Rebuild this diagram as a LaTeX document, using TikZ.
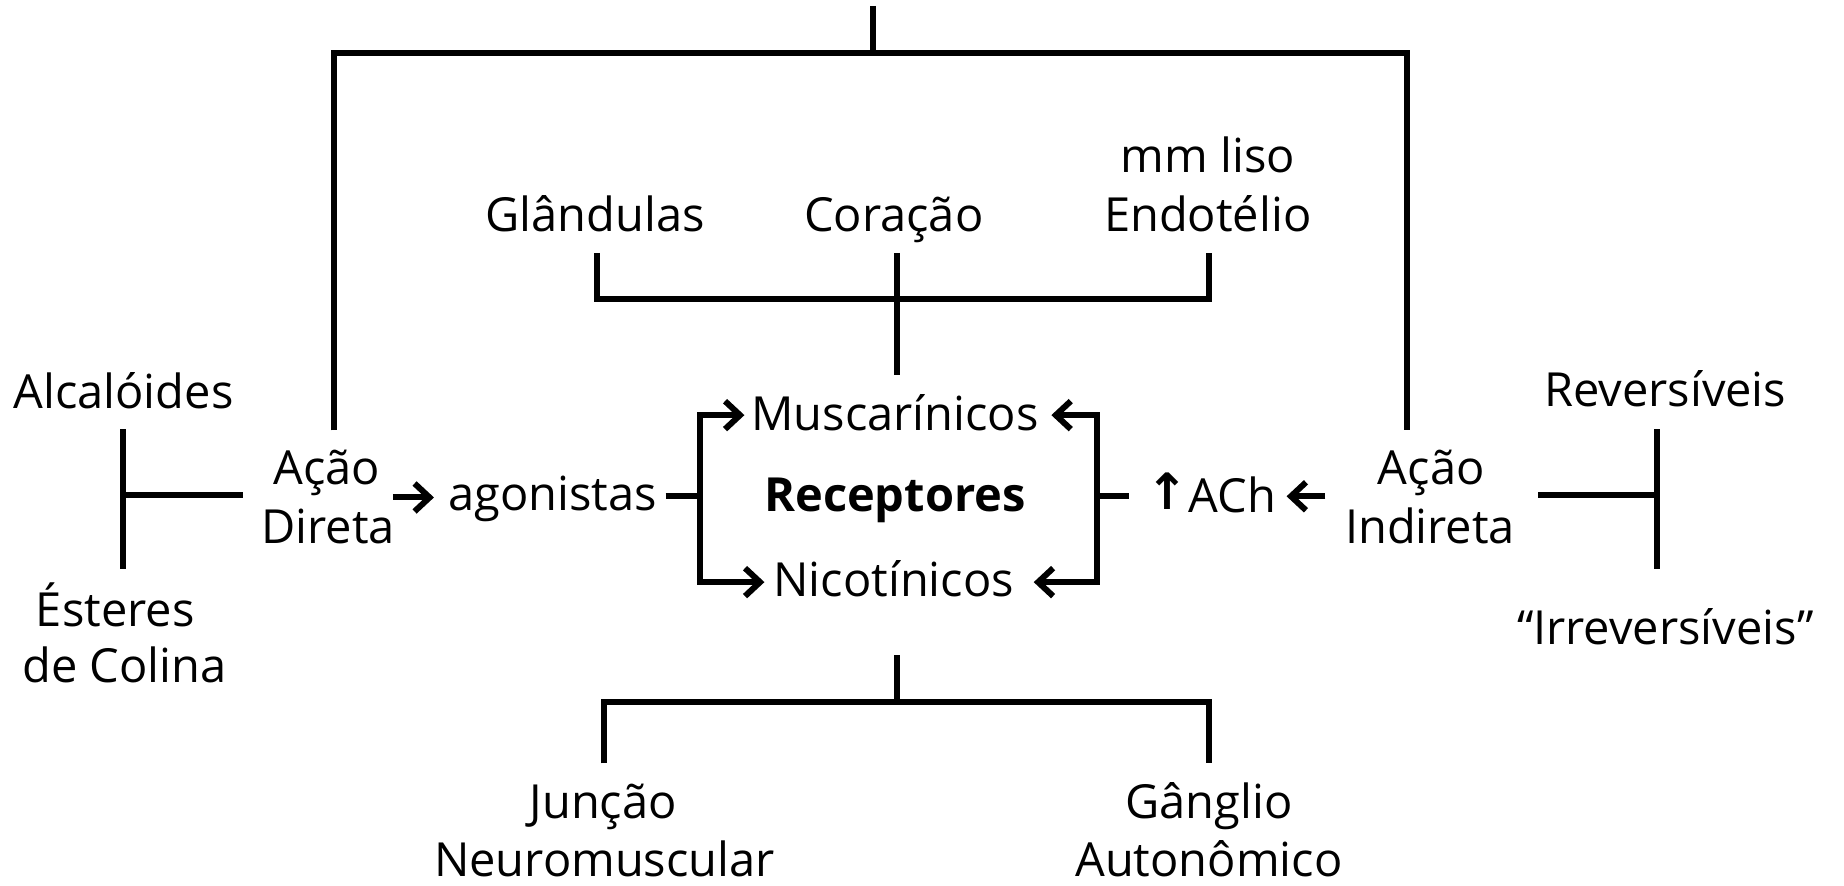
\documentclass[tikz,border=0pt]{standalone}
\usepackage{fontspec}
\setmainfont{Open Sans}
\newfontfamily\dejavu{DejaVu Sans}
\usetikzlibrary{arrows.meta}
\begin{document}
\begin{tikzpicture}[x=1.176pt,y=-1.176pt,
  txt/.style={font=\fontsize{47}{56}\selectfont, inner sep=0pt, anchor=base},
  ln/.style={line width=6pt, line cap=butt, line join=miter},
  arr/.style={ln, -{Straight Barb[length=15pt,width=28pt,line width=6pt]}}]
\useasboundingbox (0,0) rectangle (1568,753);
% texts
\node[txt] (gland) at (506,197) {Glândulas};
\node[txt] (corac) at (760,197) {Coração};
\node[txt] (mmliso) at (1027,147) {mm liso};
\node[txt] (endot) at (1027,197) {Endotélio};
\node[txt] (alcal) at (105,347) {Alcalóides};
\node[txt] (ester) at (98,533) {Ésteres};
\node[txt] (colina) at (106,580) {de Colina};
\node[txt] (acaoD) at (278,412) {Ação};
\node[txt] (direta) at (279,462) {Direta};
\node[txt] (agon) at (470,434) {agonistas};
\node[txt] (musc) at (761,366) {Muscarínicos};
\node[txt] (recep) at (761,435) {\bfseries Receptores};
\node[txt] (nicot) at (760,507) {Nicotínicos};
\node[txt] (ach) at (1030,436) {\raisebox{3pt}{\dejavu\bfseries\fontsize{50}{50}\selectfont ↑}ACh};
\node[txt] (acaoI) at (1217,412) {Ação};
\node[txt] (indir) at (1216,462) {Indireta};
\node[txt] (revers) at (1416,346) {Reversíveis};
\node[txt] (irrev) at (1416,548) {“Irreversíveis”};
\node[txt] (juncao) at (513,696) {Junção};
\node[txt] (neuro) at (514,745) {Neuromuscular};
\node[txt] (gangl) at (1028,696) {Gânglio};
\node[txt] (auton) at (1028,745) {Autonômico};
% coordinates
\coordinate (top) at (742,5);
\coordinate (topL) at (284,45);
\coordinate (topR) at (1196,45);
\coordinate (acaoDtop) at (284,366);
\coordinate (acaoItop) at (1196,366);
\coordinate (gl) at (508,215);
\coordinate (en) at (1028,215);
\coordinate (cor) at (763,215);
\coordinate (mustop) at (763,319);
\coordinate (brL) at (595,422);
\coordinate (brR) at (933,422);
\coordinate (nicbot) at (763,557);
\coordinate (jn) at (514,649);
\coordinate (gg) at (1028,649);
\coordinate (tL) at (105,365);
\coordinate (tLb) at (105,484);
\coordinate (tR) at (1409,365);
\coordinate (tRb) at (1409,484);
% top tree
\draw[ln] (top) -- (742,45);
\draw[ln] (acaoDtop) -- (topL) -- (topR) -- (acaoItop);
% muscarinic tree
\draw[ln] (gl) |- (en |- 0,254) -- (en);
\draw[ln] (cor) -- (mustop);
% nicotinic tree
\draw[ln] (nicbot) -- (763,597);
\draw[ln] (jn) |- (gg |- 0,597) -- (gg);
% left T
\draw[ln] (tL) -- (tLb);
\draw[ln] (105,421) -- (207,421);
% right T
\draw[ln] (tR) -- (tRb);
\draw[ln] (1308,421) -- (1409,421);
% arrows left
\draw[arr] (334,423) -- (369,423);
\draw[ln] (566,422) -- (brL);
\draw[arr] (brL) |- (633,353);
\draw[arr] (brL) |- (650,495);
% arrows right
\draw[arr] (1127,422) -- (1094,422);
\draw[ln] (960,422) -- (brR);
\draw[arr] (brR) |- (894,353);
\draw[arr] (brR) |- (879,495);
\end{tikzpicture}
\end{document}
